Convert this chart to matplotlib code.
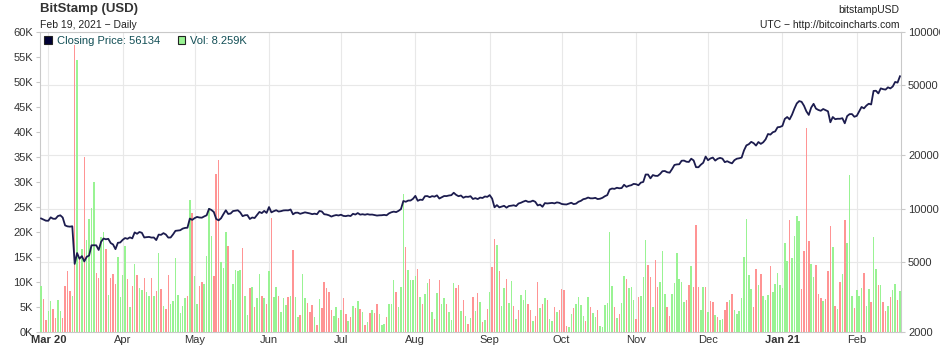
import numpy as np
import pandas as pd
import matplotlib
matplotlib.use('Agg')
import matplotlib.pyplot as plt
import matplotlib.dates as mdates
from matplotlib.patches import Patch
from matplotlib.ticker import NullLocator

plt.rcParams['font.family'] = ['Liberation Sans', 'DejaVu Sans']

# one bar / point per day
dates = pd.date_range('2020-02-27', '2021-02-19', freq='D')

# daily closing price (USD), by month
close_feb20 = [8790, 8670, 8540]
close_mar = [8530, 8920, 8760, 8750, 9070, 9160, 8900, 8030, 7930, 7900, 7940, 4860, 5600, 5200, 5380, 5020,
             5330, 5420, 6190, 6200, 6190, 5830, 6480, 6770, 6700, 6740, 6380, 6260, 5890, 6400, 6430]
close_apr = [6650, 6810, 6740, 6870, 6780, 7330, 7200, 7370, 7290, 6860, 6890, 6910, 6850, 6860, 6630,
             7120, 7100, 7260, 7130, 6850, 6860, 7140, 7480, 7510, 7540, 7700, 7770, 7790, 8780, 8630]
close_may = [8830, 8970, 8900, 8880, 9030, 9160, 9970, 9820, 9560, 8730, 8580, 8810, 9300, 9780, 9320, 9380,
             9680, 9730, 9780, 9510, 9060, 9170, 9180, 8730, 8900, 8840, 9200, 9570, 9430, 9700, 9450]
close_jun = [10200, 9520, 9670, 9790, 9620, 9670, 9760, 9780, 9770, 9880, 9280, 9470, 9480, 9340, 9430,
             9520, 9460, 9390, 9300, 9360, 9290, 9690, 9630, 9290, 9250, 9160, 9010, 9120, 9190, 9140]
close_jul = [9230, 9090, 9060, 9130, 9070, 9340, 9250, 9430, 9240, 9290, 9230, 9300, 9240, 9250, 9190, 9130,
             9160, 9170, 9210, 9160, 9390, 9530, 9610, 9550, 9710, 9930, 11040, 10930, 11100, 11110, 11350]
close_aug = [11800, 11070, 11230, 11190, 11750, 11770, 11600, 11760, 11680, 11880, 11400, 11580, 11780,
             11770, 11860, 11910, 12290, 11960, 11750, 11860, 11520, 11680, 11650, 11750, 11330, 11460,
             11320, 11540, 11480, 11710, 11650]
close_sep = [11920, 11390, 10170, 10460, 10160, 10260, 10370, 10120, 10340, 10380, 10440, 10330, 10680,
             10790, 10950, 11080, 10920, 10940, 11090, 10920, 10420, 10530, 10240, 10740, 10690, 10730,
             10770, 10700, 10840, 10780]
close_oct = [10620, 10570, 10550, 10670, 10790, 10600, 10670, 10930, 11060, 11300, 11380, 11550, 11430,
             11430, 11500, 11320, 11370, 11510, 11750, 11920, 12820, 12990, 12930, 13120, 13030, 13070,
             13640, 13280, 13460, 13560, 13800]
close_nov = [13740, 13560, 14030, 14150, 15590, 15590, 14830, 15480, 15330, 15310, 15700, 16280, 16320,
             16060, 15970, 16730, 17660, 17790, 17820, 18660, 18700, 18420, 18370, 19160, 18730, 17160,
             17140, 17720, 18180, 19700]
close_dec = [18790, 19220, 19450, 18700, 19150, 19370, 19180, 18320, 18550, 18250, 18040, 18800, 19160,
             19270, 19440, 21360, 22800, 23150, 23870, 23480, 22740, 23820, 23250, 23730, 24660, 26440,
             26240, 27050, 27360, 28880, 28990]
close_jan = [29390, 32190, 33000, 31990, 33990, 36800, 39400, 40620, 40240, 38240, 35540, 33910, 37320,
             39190, 36820, 36180, 35790, 36630, 36070, 35550, 30820, 33010, 32080, 32260, 32250, 32490,
             30410, 33400, 34260, 34290, 33110]
close_feb21 = [33510, 35510, 37620, 36940, 38290, 39260, 38880, 46370, 46480, 44880, 47930, 47450, 47180,
               48600, 47920, 49140, 52150, 51680, 56134]

# daily volume (thousands BTC), by month
vol_feb20 = [9.2, 6.7, 2.4]
vol_mar = [4.3, 6.3, 4.7, 2.9, 6.4, 4.3, 2.9, 9.2, 12.3, 8.3, 7.3, 57.5, 54.4, 15.0, 16.6, 35.0, 18.4, 22.6,
           24.8, 30.0, 11.9, 10.8, 19.0, 20.0, 16.6, 7.4, 10.8, 11.7, 9.7, 15.0, 7.0]
vol_apr = [11.4, 17.2, 10.6, 5.0, 9.2, 13.6, 11.5, 8.8, 8.5, 10.9, 8.0, 7.3, 10.8, 7.2, 8.3, 15.9, 8.7, 5.2,
           4.7, 11.4, 5.6, 6.3, 14.8, 7.4, 3.9, 5.2, 6.9, 7.2, 26.4, 23.9]
vol_may = [11.3, 5.6, 9.2, 10.0, 9.6, 15.2, 24.9, 19.2, 11.2, 31.6, 34.4, 14.1, 12.8, 20.1, 17.3, 6.5, 9.6,
           12.5, 12.3, 12.5, 16.8, 7.2, 3.4, 8.8, 9.1, 5.1, 6.9, 11.6, 7.3, 6.8, 5.6]
vol_jun = [12.3, 22.9, 7.1, 9.1, 7.3, 4.0, 6.8, 5.4, 7.1, 7.3, 16.4, 7.1, 3.1, 3.4, 11.7, 6.8, 5.9, 4.0, 5.4,
           3.1, 1.5, 6.7, 4.9, 10.0, 8.9, 8.1, 4.4, 3.3, 5.1, 2.9]
vol_jul = [4.5, 6.9, 3.6, 2.2, 3.1, 5.3, 4.9, 6.2, 4.7, 4.0, 1.5, 2.0, 3.9, 4.4, 3.9, 5.6, 3.6, 1.5, 1.7, 3.1,
           5.6, 5.6, 10.4, 8.1, 5.1, 9.1, 27.7, 17.0, 12.4, 10.4, 10.4]
vol_aug = [11.2, 12.6, 7.1, 5.6, 7.6, 9.9, 10.7, 4.0, 2.7, 7.9, 10.4, 5.7, 6.8, 5.6, 4.0, 2.4, 9.9, 8.9, 9.4,
           4.3, 6.4, 3.3, 1.6, 2.8, 7.1, 4.2, 7.9, 6.0, 2.0, 2.4, 4.7]
vol_sep = [8.0, 13.1, 18.6, 17.4, 12.2, 5.3, 8.9, 10.6, 5.9, 10.3, 5.2, 2.7, 4.4, 7.4, 6.4, 8.4, 5.6, 4.4,
           2.2, 3.3, 10.0, 4.9, 5.7, 6.8, 6.4, 2.7, 2.3, 5.1, 4.0, 4.4]
vol_oct = [8.7, 8.4, 1.2, 1.0, 3.6, 4.8, 5.6, 7.1, 5.4, 3.3, 2.3, 7.1, 5.1, 3.8, 3.0, 4.4, 1.2, 1.0, 5.4, 5.9,
           20.1, 9.2, 5.1, 2.8, 3.6, 5.8, 11.2, 10.7, 8.9, 9.1, 6.5]
vol_nov = [2.6, 7.1, 7.3, 11.0, 18.4, 13.4, 11.0, 5.0, 14.4, 9.0, 10.0, 16.2, 7.7, 5.1, 3.3, 7.6, 9.8, 15.9,
           10.7, 10.0, 6.1, 6.4, 9.4, 13.2, 9.1, 21.4, 9.1, 4.4, 9.0, 9.0]
vol_dec = [4.0, 6.2, 6.1, 3.5, 3.0, 2.5, 2.7, 4.4, 6.1, 6.4, 7.7, 4.5, 3.7, 4.2, 6.8, 15.0, 22.6, 11.4, 8.6,
           5.0, 12.6, 9.4, 11.6, 7.2, 6.4, 7.4, 13.2, 8.0, 9.6, 11.8, 9.4]
vol_jan = [8.8, 17.8, 14.2, 22.4, 14.8, 19.2, 23.2, 22.2, 8.6, 16.2, 40.8, 18.2, 13.6, 11.0, 13.4, 7.6, 6.8,
           6.2, 6.6, 12.2, 21.2, 17.0, 5.2, 4.6, 10.0, 11.6, 22.4, 17.8, 31.4, 7.2, 4.8]
vol_feb21 = [8.4, 7.2, 8.8, 11.8, 5.2, 8.6, 6.0, 19.0, 12.6, 9.4, 9.4, 6.0, 4.2, 5.2, 7.0, 8.4, 9.6, 6.4, 8.259]

# bar colour per day: g = up day, r = down day
dir_feb20 = "grr"
dir_mar = "ggrrggrrrrgrgrgrggggrrggrgrrrgg"
dir_apr = "ggrgrgrggrggrgrgrgrrgggggggrgr"
dir_may = "ggrrggggrrrgggrrggggrggrgrggrgr"
dir_jun = "grggrgggrgrggrggrrrgrgrrrrrggr"
dir_jul = "grrgrgrgrgrgrgrrgggrgggrgggrggg"
dir_aug = "grgrggrgrgrggrgggrrgrgrgrgrgrgr"
dir_sep = "grrgrggrggrgrgggrrgrrgrgrggrgr"
dir_oct = "rrrggrggggrgrggrggggggrgrggrggg"
dir_nov = "rrgggrrgrrgggrrggggggrrgrrrggr"
dir_dec = "grrgrggrrgrggggggggrrgrgggrgggg"
dir_jan = "gggrggggrrrrggrrrgrrrgrgrgrgggr"
dir_feb21 = "gggrggrggrgrrgrggrg"

month_starts = pd.date_range('2020-03-01', '2021-02-01', freq='MS')
month_labels = ['Mar 20', 'Apr', 'May', 'Jun', 'Jul', 'Aug', 'Sep', 'Oct', 'Nov', 'Dec', 'Jan 21', 'Feb']
vol_ticks = list(range(0, 61, 5))
price_ticks = [2000, 5000, 10000, 20000, 50000, 100000]

close = (close_feb20 + close_mar + close_apr + close_may + close_jun + close_jul + close_aug + close_sep
         + close_oct + close_nov + close_dec + close_jan + close_feb21)
vol = (vol_feb20 + vol_mar + vol_apr + vol_may + vol_jun + vol_jul + vol_aug + vol_sep + vol_oct
       + vol_nov + vol_dec + vol_jan + vol_feb21)
dirs = (dir_feb20 + dir_mar + dir_apr + dir_may + dir_jun + dir_jul + dir_aug + dir_sep + dir_oct
        + dir_nov + dir_dec + dir_jan + dir_feb21)

GREEN = '#99f393'
RED = '#ff9494'
GRID = '#e8e8e8'
EDGE = '#c9c9c9'
TXT = '#333333'

x = mdates.date2num(dates)
bar_colors = [GREEN if d == 'g' else RED for d in dirs]

fig = plt.figure(figsize=(9.4, 3.48), dpi=100)
base = fig.add_axes([40/940, 16/348, 861/940, 300/348])
volax = base.twinx()
lineax = base.twinx()

# base: grid + price scale on the right
base.set_yscale('log')
base.set_ylim(2000, 100000)
base.set_yticks(price_ticks, [str(p) for p in price_ticks])
base.yaxis.set_minor_locator(NullLocator())
base.yaxis.tick_right()
base.set_xticks(mdates.date2num(month_starts), month_labels)
base.set_xlim(x[0] - 0.46, x[-1] + 0.44)
base.grid(True, color=GRID, lw=0.8)
base.tick_params(axis='x', length=0, pad=2, labelsize=8, labelcolor=TXT)
base.tick_params(axis='y', length=3, width=0.8, color=EDGE, pad=2, labelsize=8, labelcolor=TXT)
for lab in base.get_xticklabels():
    if ' ' in lab.get_text():
        lab.set_fontweight('bold')
for s in base.spines.values():
    s.set_color(EDGE)

# volume bars on the left scale
volax.bar(x, vol, width=0.62, color=bar_colors, linewidth=0)
volax.set_ylim(0, 60)
volax.set_yticks(vol_ticks, [f'{v}K' for v in vol_ticks])
volax.yaxis.tick_left()
volax.tick_params(axis='y', length=3, width=0.8, color=EDGE, pad=2, labelsize=8, labelcolor=TXT)
for s in volax.spines.values():
    s.set_visible(False)

# closing price line on top
lineax.set_yscale('log')
lineax.set_ylim(2000, 100000)
lineax.yaxis.set_major_locator(NullLocator())
lineax.yaxis.set_minor_locator(NullLocator())
lineax.plot(x, close, color='#1c1c4e', lw=1.3)
for s in lineax.spines.values():
    s.set_visible(False)

handles = [Patch(facecolor='#000033', edgecolor='#222222', lw=0.8),
           Patch(facecolor=GREEN, edgecolor='#222222', lw=0.8)]
labels = [f'Closing Price: {close[-1]:.0f}', f'Vol: {vol[-1]:.3f}K']
lineax.legend(handles, labels, loc='upper left', bbox_to_anchor=(0, 1), ncol=2, frameon=False,
              fontsize=8, handlelength=0.7, handleheight=0.7, handletextpad=0.45, columnspacing=1.6,
              borderaxespad=0.15, borderpad=0.2, labelcolor='#114e55')

fig.text(40/940, 1 - 9/348, 'BitStamp (USD)', fontsize=9.5, fontweight='bold', color=TXT,
         ha='left', va='center')
fig.text(40/940, 1 - 25/348, f"{dates[-1]:%b %d, %Y} \u2212 Daily", fontsize=7.5, color='#222222',
         ha='left', va='center')
fig.text(899/940, 1 - 10/348, 'bitstampUSD', fontsize=7.5, color='#222222', ha='right', va='center')
fig.text(899/940, 1 - 25/348, 'UTC \u2212 http://bitcoincharts.com', fontsize=7.5, color='#222222',
         ha='right', va='center')

fig.savefig('out.png', dpi=100)
